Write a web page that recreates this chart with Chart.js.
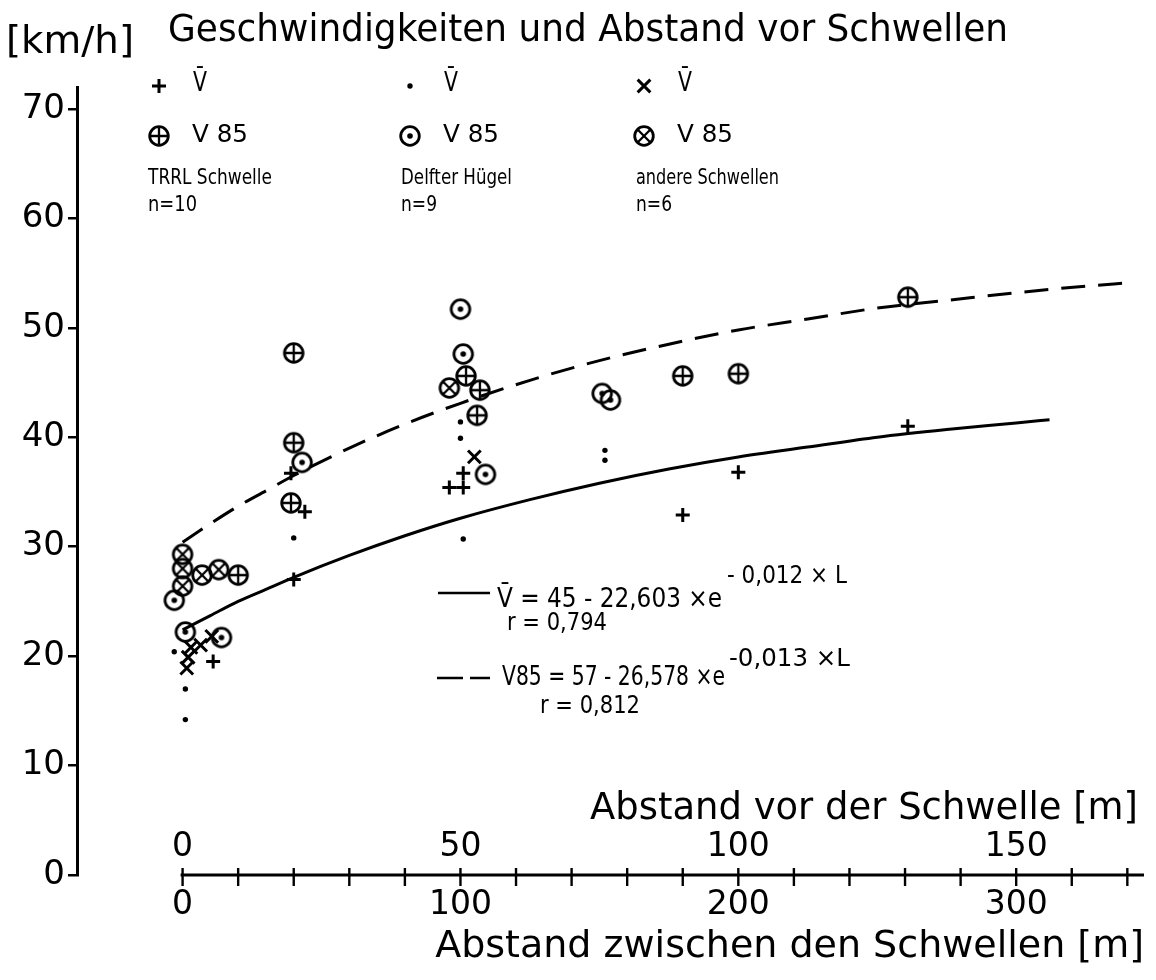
<!DOCTYPE html>
<html><head><meta charset="utf-8">
<script src="https://cdn.jsdelivr.net/npm/chart.js@4.4.1/dist/chart.umd.min.js"></script>
<style>html,body{margin:0;padding:0;background:#fff;} #wrap{width:1156px;height:980px;}</style>
</head><body><div id="wrap"><canvas id="c" width="1156" height="980"></canvas></div>
<script>
const FONT = "'DejaVu Sans', 'Liberation Sans', sans-serif";

// ---- axes ----
const X_MIN = -38, X_MAX = 346, X_AXIS_END = 346;
const Y_MIN = 0, Y_MAX = 72;
const xTickValues = [0, 20, 40, 60, 80, 100, 120, 140, 160, 180, 200, 220, 240, 260, 280, 300, 320, 340];
const xLabelValues = [0, 100, 200, 300];
const x2LabelValues = [0, 50, 100, 150];
const yTickValues = [0, 10, 20, 30, 40, 50, 60, 70];

// ---- TRRL Schwelle (n=10) ----
const trrlMeanX = [11, 40, 39, 44, 96, 101, 101, 180, 200, 261];
const trrlMeanY = [19.5, 27.0, 36.7, 33.2, 35.4, 35.4, 36.7, 32.9, 36.8, 41.0];
const trrlV85X = [20, 39, 40, 40, 102, 106, 107, 180, 200, 261];
const trrlV85Y = [27.4, 34.0, 39.5, 47.7, 45.6, 42.0, 44.3, 45.6, 45.8, 52.8];

// ---- Delfter Hügel (n=9) ----
const delftMeanX = [-3, 1, 1, 40, 101, 100, 100, 152, 152];
const delftMeanY = [20.4, 17.0, 14.2, 30.8, 30.7, 39.9, 41.4, 37.9, 38.8];
const delftV85X = [-3, 1, 14, 43, 100, 101, 109, 151, 154];
const delftV85Y = [25.1, 22.2, 21.7, 37.7, 51.7, 47.6, 36.6, 44.0, 43.4];

// ---- andere Schwellen (n=6) ----
const otherMeanX = [1.5, 2, 3, 6.5, 10.5, 105];
const otherMeanY = [18.9, 19.9, 20.8, 21.0, 21.8, 38.2];
const otherV85X = [0, 0, 0, 7, 13, 96];
const otherV85Y = [29.3, 28.0, 26.4, 27.4, 27.9, 44.5];

// ---- fitted curves ----
const meanFitX = [0, 10, 20, 30, 40, 60, 80, 100, 125, 150, 175, 200, 225, 250, 275, 300, 312];
const meanFitY = [22.4, 23.7, 25.0, 26.1, 27.2, 29.2, 31.0, 32.6, 34.3, 35.8, 37.1, 38.2, 39.1, 40.0, 40.7, 41.3, 41.6];
const v85FitX = [0, 10, 20, 30, 40, 60, 80, 100, 125, 150, 175, 200, 225, 250, 275, 300, 325, 340];
const v85FitY = [30.4, 32.1, 33.7, 35.1, 36.5, 39.0, 41.2, 43.1, 45.2, 47.0, 48.5, 49.8, 50.8, 51.8, 52.5, 53.2, 53.8, 54.1];

const pts = (xs, ys) => xs.map((x, i) => ({ x: x, y: ys[i] }));

function markerCanvas(kind) {
  const s = 28, c = document.createElement('canvas');
  c.width = s; c.height = s;
  const g = c.getContext('2d'), m = s / 2, r = 9.3;
  g.strokeStyle = '#000'; g.fillStyle = '#000'; g.lineWidth = 2.8;
  g.beginPath(); g.arc(m, m, r, 0, Math.PI * 2); g.stroke();
  if (kind === 'plus') {
    g.lineWidth = 2.3;
    g.beginPath(); g.moveTo(m - r, m); g.lineTo(m + r, m); g.moveTo(m, m - r); g.lineTo(m, m + r); g.stroke();
  } else if (kind === 'cross') {
    const d = r * 0.72; g.lineWidth = 2.3;
    g.beginPath(); g.moveTo(m - d, m - d); g.lineTo(m + d, m + d); g.moveTo(m + d, m - d); g.lineTo(m - d, m + d); g.stroke();
  } else {
    g.beginPath(); g.arc(m, m, 2.8, 0, Math.PI * 2); g.fill();
  }
  return c;
}
const circlePlus = markerCanvas('plus');
const circleDot = markerCanvas('dot');
const circleCross = markerCanvas('cross');

const styles = {
  trrlMean: { pointStyle: 'cross', radius: 7, borderWidth: 3 },
  trrlV85: { pointStyle: circlePlus, radius: 10, borderWidth: 0 },
  delftMean: { pointStyle: 'circle', radius: 2.7, borderWidth: 0 },
  delftV85: { pointStyle: circleDot, radius: 10, borderWidth: 0 },
  otherMean: { pointStyle: 'crossRot', radius: 9, borderWidth: 3 },
  otherV85: { pointStyle: circleCross, radius: 10, borderWidth: 0 }
};

function scatterSet(label, xs, ys, st) {
  return {
    label: label, data: pts(xs, ys), xAxisID: 'x', yAxisID: 'y',
    pointStyle: st.pointStyle, pointRadius: st.radius, pointBorderWidth: st.borderWidth,
    borderColor: '#000', backgroundColor: '#000', showLine: false, order: 1
  };
}

function fitText(ctx, str, x, y, w, size) {
  ctx.font = size + 'px ' + FONT;
  const mw = ctx.measureText(str).width;
  ctx.save();
  ctx.translate(x, y);
  ctx.scale(w / mw, 1);
  ctx.textAlign = 'left'; ctx.textBaseline = 'middle';
  ctx.fillText(str, 0, 0);
  ctx.restore();
}

function legendPoint(ctx, st, x, y) {
  ctx.save();
  ctx.strokeStyle = '#000'; ctx.fillStyle = '#000'; ctx.lineWidth = st.borderWidth || 1;
  Chart.helpers.drawPoint(ctx, { pointStyle: st.pointStyle, radius: st.radius, borderWidth: st.borderWidth, rotation: 0 }, x, y);
  ctx.restore();
}

const decor = {
  id: 'decor',
  afterDraw(chart) {
    const ctx = chart.ctx, xs = chart.scales.x, x2 = chart.scales.x2, ys = chart.scales.y;
    const y0 = ys.getPixelForValue(0);
    ctx.save();
    ctx.fillStyle = '#000'; ctx.strokeStyle = '#000';
    // horizontal axis with crossing ticks
    ctx.lineWidth = 3;
    ctx.beginPath(); ctx.moveTo(xs.getPixelForValue(0) - 2, y0); ctx.lineTo(xs.getPixelForValue(X_AXIS_END), y0); ctx.stroke();
    ctx.lineWidth = 2.4;
    xTickValues.forEach(v => {
      const px = xs.getPixelForValue(v);
      ctx.beginPath(); ctx.moveTo(px, y0 - 7); ctx.lineTo(px, y0 + 11); ctx.stroke();
    });
    // upper scale: Abstand vor der Schwelle
    ctx.font = '33px ' + FONT; ctx.textAlign = 'center'; ctx.textBaseline = 'middle';
    x2LabelValues.forEach(v => ctx.fillText(String(v), x2.getPixelForValue(v), y0 - 28));
    fitText(ctx, 'Abstand vor der Schwelle [m]', 590, y0 - 66, 548, 37);

    // title and unit
    fitText(ctx, 'Geschwindigkeiten und Abstand vor Schwellen', 168, 31, 840, 37);
    fitText(ctx, '[km/h]', 6, 43, 128, 37);

    // legend block
    const cols = [
      { mx: 159, text: 148, mean: styles.trrlMean, v85: styles.trrlV85, name: 'TRRL Schwelle', nw: 124, n: 'n=10', nnw: 49 },
      { mx: 410, text: 401, mean: styles.delftMean, v85: styles.delftV85, name: 'Delfter Hügel', nw: 111, n: 'n=9', nnw: 36 },
      { mx: 644, text: 636, mean: styles.otherMean, v85: styles.otherV85, name: 'andere Schwellen', nw: 143, n: 'n=6', nnw: 36 }
    ];
    cols.forEach(c => {
      legendPoint(ctx, c.mean, c.mx, 86);
      fitText(ctx, 'V\u0304', c.mx + 34, 84, 14, 26);
      legendPoint(ctx, c.v85, c.mx, 136);
      fitText(ctx, 'V 85', c.mx + 33, 136, 56, 24);
      fitText(ctx, c.name, c.text, 178, c.nw, 22);
      fitText(ctx, c.n, c.text, 205, c.nnw, 22);
    });

    // regression legend
    ctx.lineWidth = 2.6; ctx.setLineDash([]);
    ctx.beginPath(); ctx.moveTo(438, 593); ctx.lineTo(490, 593); ctx.stroke();
    fitText(ctx, 'V\u0304 = 45 - 22,603 \u00d7e', 497, 600, 225, 26);
    fitText(ctx, '- 0,012 \u00d7 L', 727, 577, 120, 24);
    fitText(ctx, 'r = 0,794', 507, 623, 100, 25);
    ctx.setLineDash([26, 7]);
    ctx.beginPath(); ctx.moveTo(437, 678); ctx.lineTo(490, 678); ctx.stroke();
    ctx.setLineDash([]);
    fitText(ctx, 'V85 = 57 - 26,578 \u00d7e', 502, 678, 223, 26);
    fitText(ctx, '-0,013 \u00d7L', 729, 660, 121, 24);
    fitText(ctx, 'r = 0,812', 540, 706, 100, 25);
    ctx.restore();
  }
};

new Chart(document.getElementById('c'), {
  type: 'scatter',
  data: {
    datasets: [
      { label: 'V\u0304 = 45-22,603\u00d7e^(-0,012\u00d7L)', data: pts(meanFitX, meanFitY), xAxisID: 'x', yAxisID: 'y',
        showLine: true, pointRadius: 0, borderColor: '#000', borderWidth: 3, cubicInterpolationMode: 'monotone', fill: false, order: 2 },
      { label: 'V85 = 57-26,578\u00d7e^(-0,013\u00d7L)', data: pts(v85FitX, v85FitY), xAxisID: 'x', yAxisID: 'y',
        showLine: true, pointRadius: 0, borderColor: '#000', borderWidth: 3, borderDash: [24, 13], cubicInterpolationMode: 'monotone', fill: false, order: 2 },
      scatterSet('TRRL Schwelle V\u0304', trrlMeanX, trrlMeanY, styles.trrlMean),
      scatterSet('TRRL Schwelle V85', trrlV85X, trrlV85Y, styles.trrlV85),
      scatterSet('Delfter Hügel V\u0304', delftMeanX, delftMeanY, styles.delftMean),
      scatterSet('Delfter Hügel V85', delftV85X, delftV85Y, styles.delftV85),
      scatterSet('andere Schwellen V\u0304', otherMeanX, otherMeanY, styles.otherMean),
      scatterSet('andere Schwellen V85', otherV85X, otherV85Y, styles.otherV85)
    ]
  },
  options: {
    responsive: false,
    devicePixelRatio: 1,
    animation: false,
    events: [],
    layout: { padding: { top: 87, right: 11, left: 0, bottom: 0 } },
    plugins: { legend: { display: false }, tooltip: { enabled: false }, title: { display: false } },
    scales: {
      x: {
        type: 'linear', position: 'bottom', min: X_MIN, max: X_MAX,
        afterBuildTicks: s => { s.ticks = xTickValues.map(v => ({ value: v })); },
        afterFit: s => { s.height = 105; },
        grid: { display: false, drawTicks: false },
        border: { display: false },
        ticks: { color: '#000', font: { family: FONT, size: 33 }, padding: 11, autoSkip: false, maxRotation: 0,
          callback: v => (xLabelValues.includes(v) ? String(v) : '') },
        title: { display: true, text: 'Abstand zwischen den Schwellen [m]', align: 'end', color: '#000',
          font: { family: FONT, size: 38 }, padding: { top: 0, bottom: 10 } }
      },
      x2: { type: 'linear', axis: 'x', position: 'bottom', display: false, min: X_MIN / 2, max: X_MAX / 2 },
      y: {
        type: 'linear', position: 'left', min: Y_MIN, max: Y_MAX,
        afterBuildTicks: s => { s.ticks = yTickValues.map(v => ({ value: v })); },
        afterFit: s => { s.width = 77; },
        grid: { drawOnChartArea: false, drawTicks: true, tickLength: 9, color: '#000', lineWidth: 2.5 },
        border: { display: true, color: '#000', width: 3 },
        ticks: { color: '#000', font: { family: FONT, size: 34 }, padding: 3 }
      }
    }
  },
  plugins: [decor]
});
</script>
</body></html>
